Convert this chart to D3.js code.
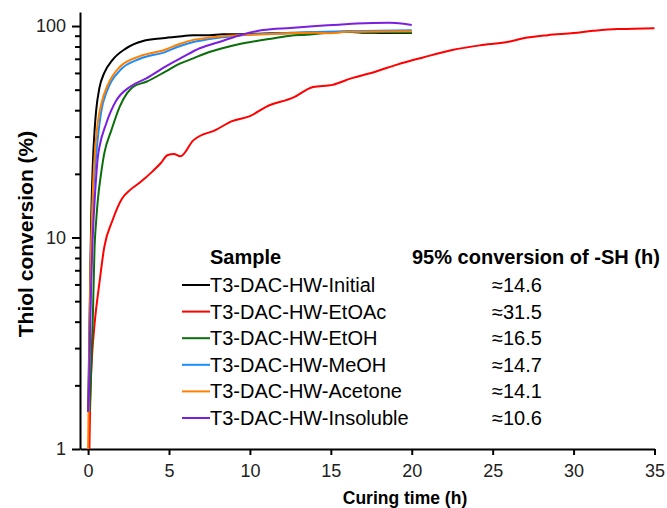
<!DOCTYPE html>
<html>
<head>
<meta charset="utf-8">
<script src="https://cdn.jsdelivr.net/npm/d3@7"></script>
<style>
  body { margin: 0; background: #fff; }
  svg { font-family: "Liberation Sans", Arial, sans-serif; }
  .axis path, .axis line { stroke: #000; stroke-width: 2; }
  .axis text { font-size: 18px; fill: #222; }
</style>
</head>
<body>
<svg id="chart"></svg>
<script>
// [time (h), thiol conversion (%)]
var initialPts = [[0,1.5],[0.05,2.5],[0.1,4.5],[0.15,8],[0.2,13],[0.3,23],[0.4,32],[0.5,40],[0.7,51],[1.0,60],[1.5,69],[2.3,78],[3.4,85],[4.6,87.5],[5.5,89],[6.5,90.5],[7.5,90.5],[8.3,91.5],[9.5,91.5],[10.5,92],[12,92.5],[13.5,93],[14.5,93.5],[16,94],[17,93],[18,92.8],[19,92.7],[20,92.8]];
var etoacPts = [[0.08,1],[0.12,1.5],[0.18,2.2],[0.25,2.8],[0.4,3.9],[0.7,6.1],[1.0,9],[1.5,12],[2.1,15.3],[2.6,16.8],[3.2,18.2],[4.0,20.6],[4.5,22.5],[4.9,24.5],[5.3,24.8],[5.7,24.2],[6.5,28.8],[7.9,32.3],[8.9,35.5],[10,37.5],[11,41.5],[12.7,46],[13.9,51.5],[15.1,52.7],[16.2,56.4],[17.8,61],[19.1,65.7],[20.7,71],[22.5,77],[24.2,81],[25.9,84],[26.9,87.5],[28.4,90.5],[30,92.6],[31.2,94.9],[32.7,96.8],[33.7,97],[35,97.5]];
var etohPts = [[0.1,1.5],[0.2,2.5],[0.3,4.4],[0.4,9],[0.5,12],[0.6,15],[0.8,20],[1.0,25],[1.43,32],[1.95,41.5],[2.4,48],[2.77,51.5],[3.6,54.5],[4.8,61],[5.6,66],[6.5,70.3],[7.4,75],[8.3,78.5],[9.3,82],[10.4,85],[11.5,87.5],[12.5,90],[13.5,91],[14.5,92.4],[15.5,93.5],[16.2,94.6],[17,93.5],[18,93.5],[19,93.2],[20,93]];
var meohPts = [[0.03,1.5],[0.05,1.8],[0.1,3.5],[0.2,9],[0.3,15],[0.5,24.5],[0.8,39],[1.2,50],[2,62],[3.2,70],[4.8,75.5],[5.6,80],[6.5,84],[7.4,86.5],[8.3,88.5],[10,91],[12,92.5],[14,93.8],[16,94.5],[18,95],[20,95.5]];
var acetonePts = [[0,1],[0.05,2],[0.1,4],[0.15,7],[0.2,10],[0.3,17],[0.4,24],[0.6,35],[0.82,43],[1.23,53],[1.95,64],[3.2,72],[4.8,77.5],[5.6,82],[6.5,86],[7.4,88],[8.3,89.5],[10,91],[11,91.5],[12.5,92.4],[14,93],[15,92.5],[16,94],[17,94],[18,94.3],[20,94.5]];
var insolublePts = [[0,1.5],[0.05,1.8],[0.14,4.2],[0.28,9.7],[0.45,17],[0.6,24],[0.71,27],[1.12,34.6],[1.74,44.4],[2.57,51.5],[3.6,56.6],[4.8,64.5],[5.8,71],[6.9,78.5],[8.3,85],[9.5,91],[10.8,95.7],[12.5,98],[14.1,100],[15.5,101.5],[16.6,102.8],[18.6,103.5],[19.5,102.5],[20,101.2]];

var sampleNames = ['T3-DAC-HW-Initial','T3-DAC-HW-EtOAc','T3-DAC-HW-EtOH','T3-DAC-HW-MeOH','T3-DAC-HW-Acetone','T3-DAC-HW-Insoluble'];
var conversionTimes = ['\u224814.6','\u224831.5','\u224816.5','\u224814.7','\u224814.1','\u224810.6'];
var colors = ['#000000','#ff0000','#0a6e0a','#1a8cff','#ff8000','#7a1fe0'];
var xTicks = [0,5,10,15,20,25,30,35];
var yTicks = [1,10,100];
var yMinorTicks = [2,3,4,5,6,7,8,9,20,30,40,50,60,70,80,90];

var series = [initialPts, etoacPts, etohPts, meohPts, acetonePts, insolublePts];

var width = 667, height = 508;
var svg = d3.select('#chart').attr('width', width).attr('height', height);

// scales
var xScale = d3.scaleLinear().domain([-0.5, 35]).range([80, 654.5]);
var yScale = d3.scaleLog().domain([1, 116.5]).range([449, 12]);

// x axis
var xAxis = d3.axisBottom(xScale).tickValues(xTicks).tickSize(6).tickSizeOuter(0).tickPadding(9);
svg.append('g').attr('class', 'axis')
	.attr('transform', 'translate(0,449)')
	.call(xAxis);

// y axis, minor ticks first
svg.append('g').attr('class', 'axis minor')
	.attr('transform', 'translate(80,0)')
	.call(d3.axisLeft(yScale).tickValues(yMinorTicks).tickSize(5).tickFormat(''))
	.select('.domain').remove();

var yAxis = d3.axisLeft(yScale).tickValues(yTicks).tickSize(8).tickSizeOuter(0).tickPadding(6).tickFormat(d3.format('d'));
svg.append('g').attr('class', 'axis')
	.attr('transform', 'translate(80,0)')
	.call(yAxis);

// axis titles
svg.append('text')
	.attr('x', 405).attr('y', 504)
	.attr('text-anchor', 'middle')
	.style('font-weight', 'bold').style('font-size', '17.5px')
	.text('Curing time (h)');

svg.append('text')
	.attr('transform', 'translate(33,234) rotate(-90)')
	.attr('text-anchor', 'middle')
	.style('font-weight', 'bold').style('font-size', '21px')
	.text('Thiol conversion (%)');

// data lines
var line = d3.line()
	.x(function(d) { return xScale(d[0]); })
	.y(function(d) { return yScale(d[1]); })
	.curve(d3.curveMonotoneX);

svg.append('g').selectAll('path').data(series)
	.enter().append('path')
	.attr('d', line)
	.attr('fill', 'none')
	.attr('stroke', function(d, i) { return colors[i]; })
	.attr('stroke-width', 2);

// legend table
var legend = svg.append('g').style('font-size', '20px');
legend.append('text').attr('x', 210).attr('y', 264)
	.style('font-weight', 'bold').text('Sample');
legend.append('text').attr('x', 412).attr('y', 264)
	.style('font-weight', 'bold').text('95% conversion of -SH (h)');

var rows = legend.selectAll('.row').data(sampleNames)
	.enter().append('g').attr('class', 'row')
	.attr('transform', function(d, i) { return 'translate(0,' + (285 + i * 26.6) + ')'; });

rows.append('line')
	.attr('x1', 182).attr('x2', 210)
	.attr('stroke', function(d, i) { return colors[i]; })
	.attr('stroke-width', 2);

rows.append('text').attr('x', 210).attr('dy', '0.35em').text(function(d) { return d; });
rows.append('text').attr('x', 492).attr('dy', '0.35em').text(function(d, i) { return conversionTimes[i]; });
</script>
</body>
</html>
